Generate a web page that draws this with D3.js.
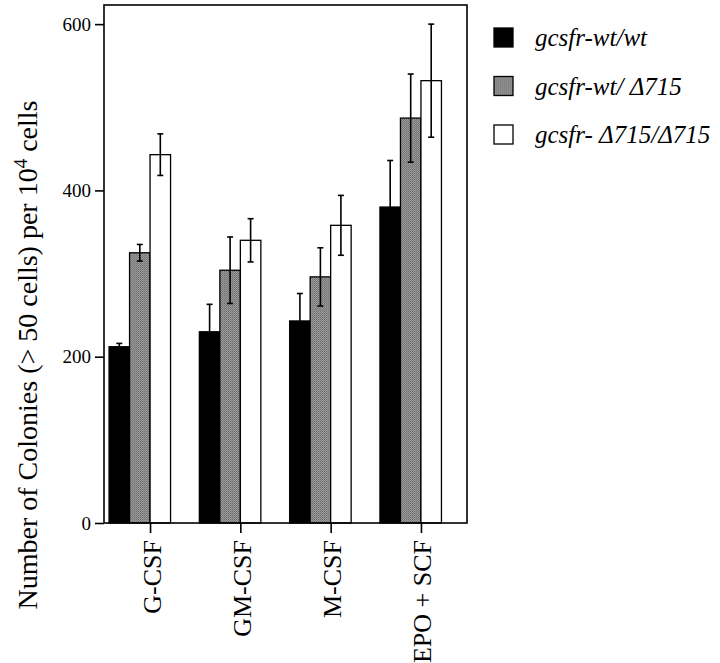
<!DOCTYPE html>
<meta charset="utf-8">
<style>
    body { margin: 0; background: #fff; }
    svg text { font-family: "Liberation Serif", "DejaVu Serif", serif; fill: #000; }
    .legend text { font-style: italic; font-size: 25px; }
</style>
<svg width="720" height="663"></svg>
<script src="https://d3js.org/d3.v7.min.js"></script>
<script>
    // data
    var categories = ["G-CSF", "GM-CSF", "M-CSF", "EPO + SCF"];
    var series = ["wt/wt", "wt/d715", "d715/d715"];
    var legendLabels = ["gcsfr-wt/wt", "gcsfr-wt/ \u0394715", "gcsfr- \u0394715/\u0394715"];
    var wtwt = [212, 230, 243, 380];
    var wtwtErr = [4, 33, 33, 56];
    var wtd = [325, 304, 296, 487];
    var wtdErr = [10, 40, 35, 53];
    var dd = [443, 340, 358, 532];
    var ddErr = [25, 26, 36, 68];
    var yTicks = [0, 200, 400, 600];

    var svg = d3.select("svg"),
        margin = {top: 5, left: 104},
        width = 363,
        height = 518,
        g = svg.append("g").attr("transform", "translate(" + margin.left + "," + margin.top + ")");

    var defs = svg.append("defs");
    var pat = defs.append("pattern")
        .attr("id", "stipple")
        .attr("width", 2).attr("height", 2)
        .attr("patternUnits", "userSpaceOnUse");
    pat.append("rect").attr("width", 2).attr("height", 2).attr("fill", "#9a9a9a");
    pat.append("rect").attr("width", 1).attr("height", 1).attr("fill", "#6e6e6e");
    pat.append("rect").attr("x", 1).attr("y", 1).attr("width", 1).attr("height", 1).attr("fill", "#7e7e7e");

    var fills = ["#000", "url(#stipple)", "#fff"];
    var values = [wtwt, wtd, dd];
    var errs = [wtwtErr, wtdErr, ddErr];

    var x = d3.scalePoint().domain(categories).range([0, width]).padding(0.51);
    var barW = 20.5;
    var xSub = d3.scaleBand().domain(series).range([-2 * barW, barW]);
    var y = d3.scaleLinear().domain([0, 623]).range([height, 0]);

    var rows = [];
    series.forEach(function(s, si) {
        categories.forEach(function(c, ci) {
            rows.push({cat: c, s: s, si: si, v: values[si][ci], e: errs[si][ci]});
        });
    });

    // bars
    g.selectAll(".bar")
        .data(rows)
        .enter().append("rect")
        .attr("class", "bar")
        .attr("x", function(d) { return x(d.cat) + xSub(d.s); })
        .attr("width", xSub.bandwidth())
        .attr("y", function(d) { return y(d.v); })
        .attr("height", function(d) { return height - y(d.v); })
        .attr("fill", function(d) { return fills[d.si]; })
        .attr("stroke", "#000")
        .attr("stroke-width", 1.3);

    // error bars
    function cx(d) { return x(d.cat) + xSub(d.s) + barW / 2; }
    var eb = g.selectAll(".err")
        .data(rows)
        .enter().append("g")
        .attr("class", "err")
        .attr("stroke", "#000")
        .attr("stroke-width", 1.6);
    eb.append("line")
        .attr("x1", cx).attr("x2", cx)
        .attr("y1", function(d) { return y(d.v - d.e); })
        .attr("y2", function(d) { return y(d.v + d.e); });
    eb.append("line")
        .attr("x1", function(d) { return cx(d) - 3; })
        .attr("x2", function(d) { return cx(d) + 3; })
        .attr("y1", function(d) { return y(d.v + d.e); })
        .attr("y2", function(d) { return y(d.v + d.e); });
    eb.filter(function(d) { return d.si > 0; }).append("line")
        .attr("x1", function(d) { return cx(d) - 3; })
        .attr("x2", function(d) { return cx(d) + 3; })
        .attr("y1", function(d) { return y(d.v - d.e); })
        .attr("y2", function(d) { return y(d.v - d.e); });

    // frame
    g.append("rect")
        .attr("width", width).attr("height", height)
        .attr("fill", "none").attr("stroke", "#000").attr("stroke-width", 1.6);

    // y axis
    var yAxis = g.append("g")
        .call(d3.axisLeft(y).tickValues(yTicks).tickSize(9).tickPadding(4));
    yAxis.select(".domain").remove();
    yAxis.selectAll("line").attr("stroke-width", 1.6);
    yAxis.selectAll("text")
        .style("font-size", "19px");

    // x axis
    var xAxis = g.append("g")
        .attr("transform", "translate(0," + height + ")")
        .call(d3.axisBottom(x).tickSize(10).tickPadding(0));
    xAxis.select(".domain").remove();
    xAxis.selectAll("line").attr("stroke-width", 1.6);
    xAxis.selectAll("text")
        .style("font-size", "26px")
        .attr("text-anchor", "end")
        .attr("transform", "translate(10,17) rotate(-90)")
        .attr("x", 0).attr("y", 0).attr("dy", 0);

    // y title
    var title = svg.append("text")
        .attr("transform", "translate(37,355) rotate(-90)")
        .attr("text-anchor", "middle")
        .style("font-size", "28px");
    title.append("tspan").text("Number of Colonies (> 50 cells) per 10");
    title.append("tspan").attr("dy", -10).style("font-size", "19px").text("4");
    title.append("tspan").attr("dy", 10).text(" cells");

    // legend
    var legend = svg.append("g").attr("class", "legend");
    var lg = legend.selectAll("g")
        .data(series)
        .enter().append("g")
        .attr("transform", function(d, i) { return "translate(494," + (28 + i * 48.5) + ")"; });
    lg.append("rect")
        .attr("width", 19).attr("height", 19)
        .attr("fill", function(d, i) { return fills[i]; })
        .attr("stroke", "#000").attr("stroke-width", 1.3);
    lg.append("text")
        .attr("x", 41).attr("y", 18)
        .text(function(d, i) { return legendLabels[i]; });
</script>
